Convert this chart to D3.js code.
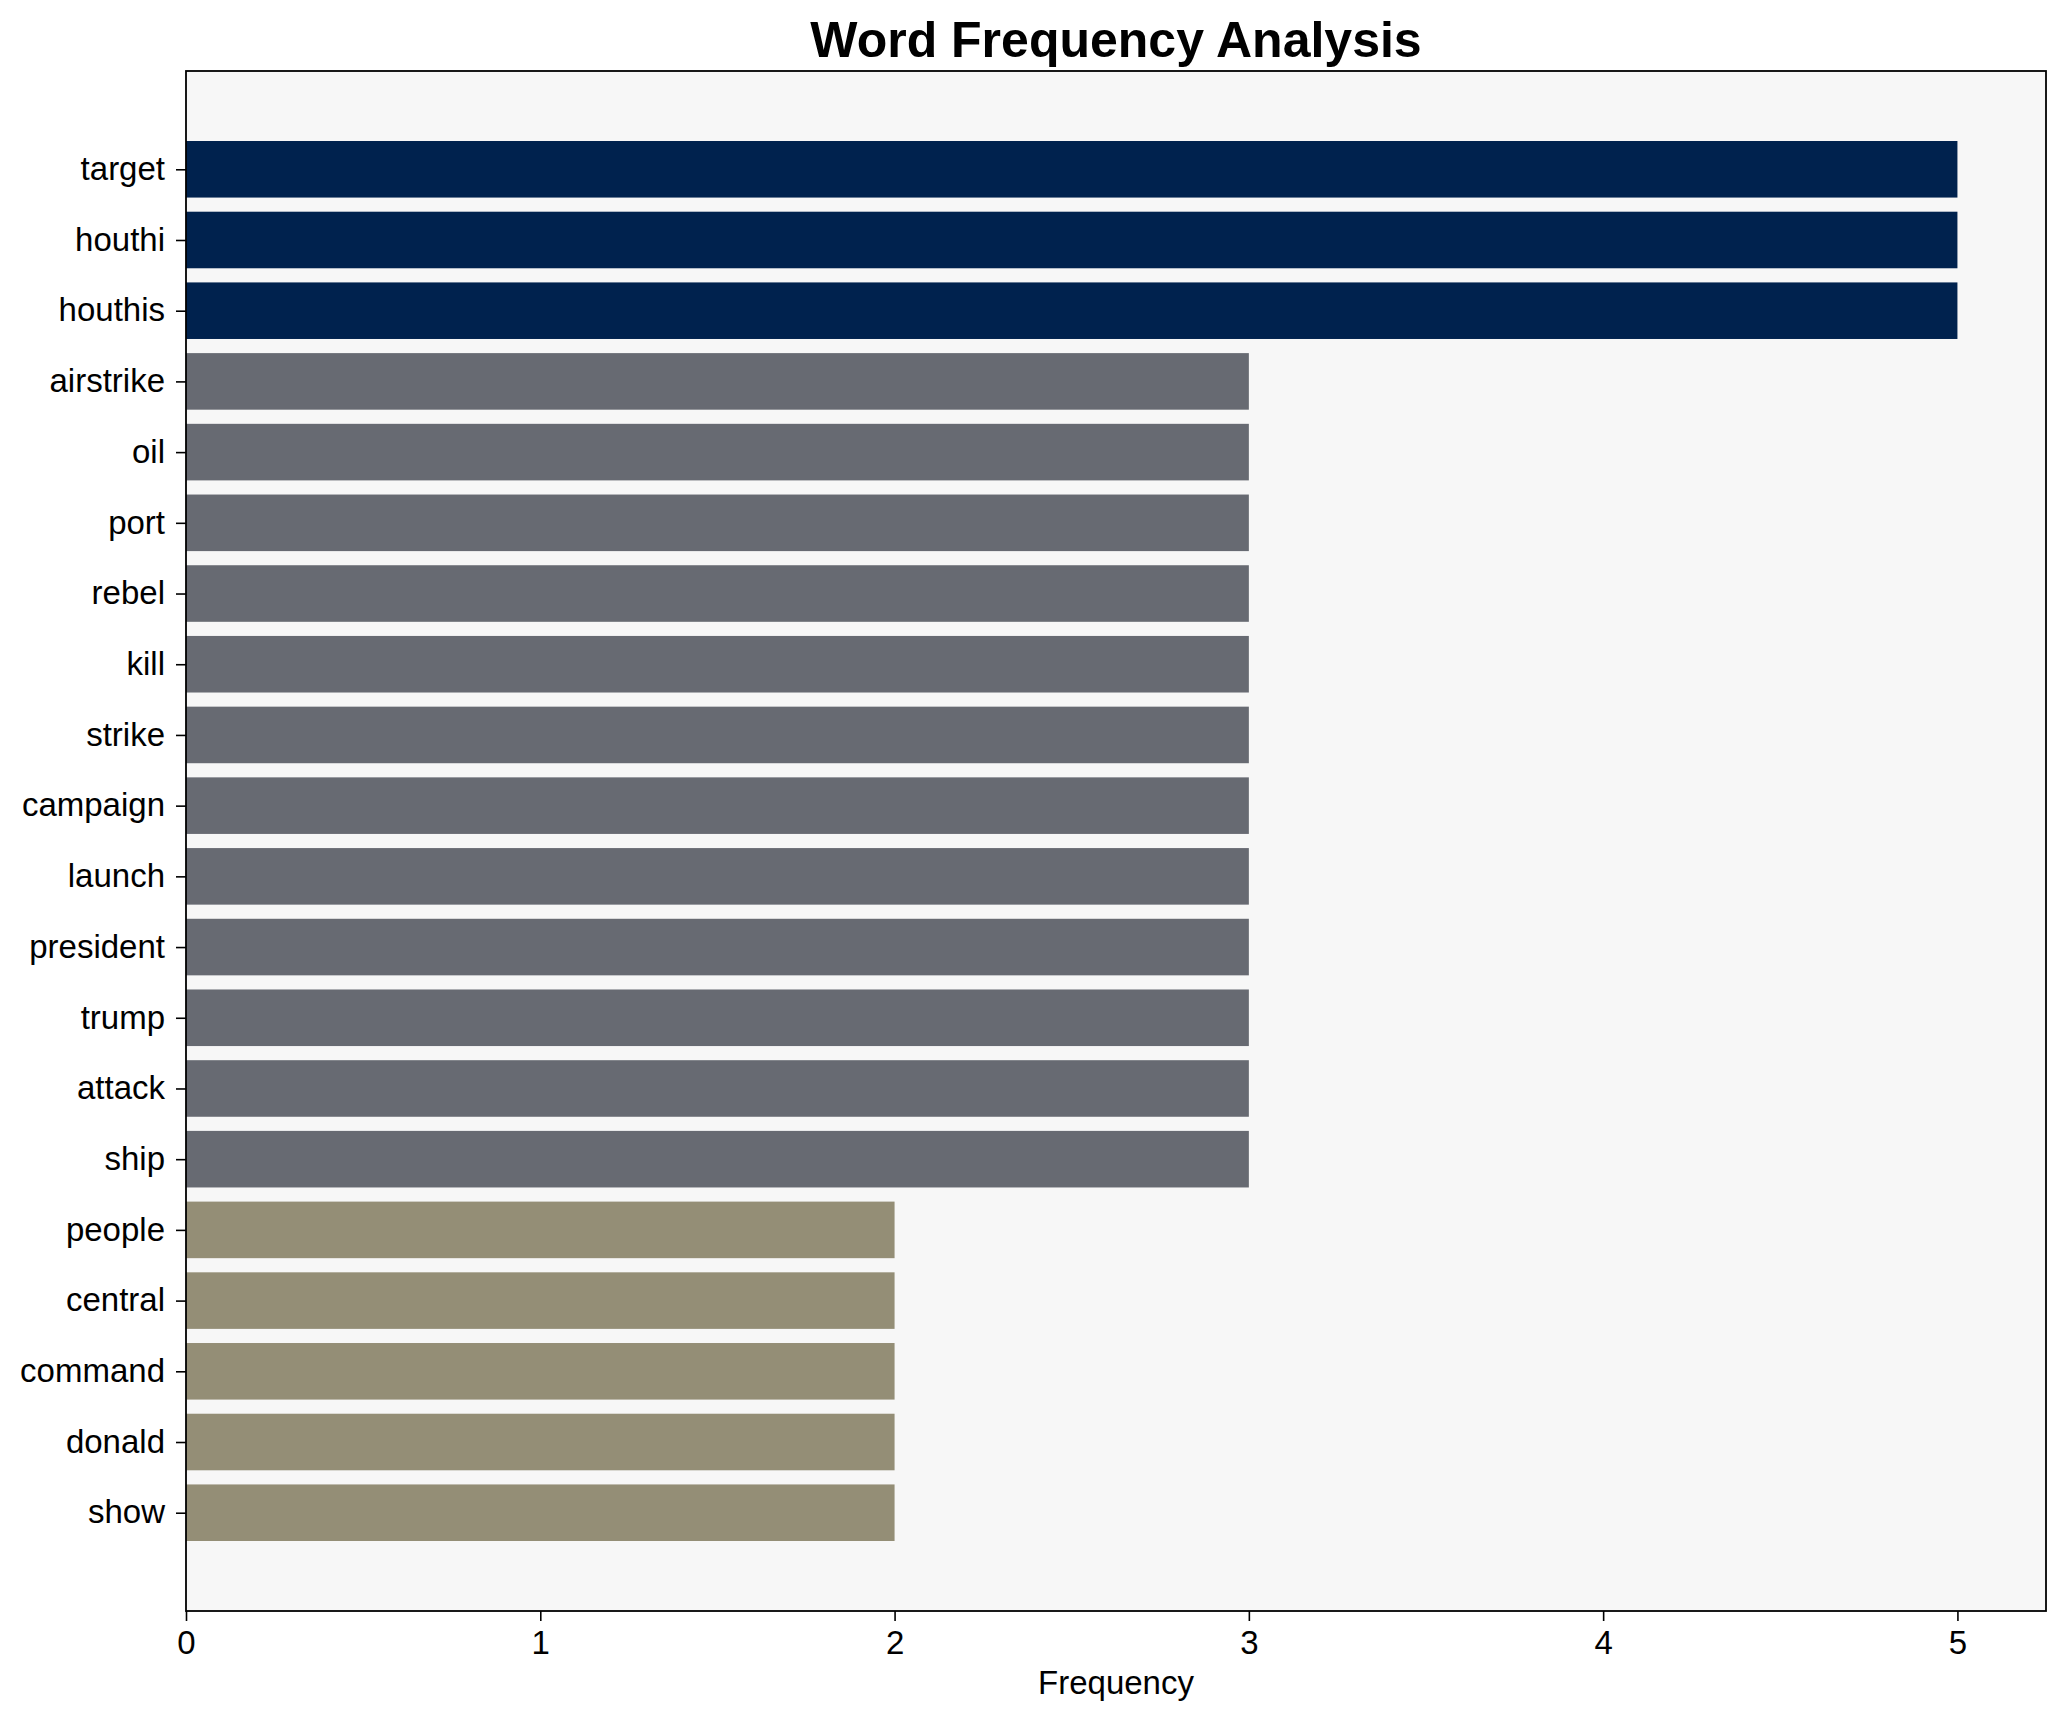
<!DOCTYPE html>
<html><head><meta charset="utf-8">
<script src="https://cdn.jsdelivr.net/npm/d3@7"></script>
<style>body{margin:0;background:#fff}svg{display:block}text{font-family:"Liberation Sans",Arial,sans-serif}</style>
</head><body><svg id="c" width="2065" height="1722"></svg>
<script>
const words = ["target","houthi","houthis","airstrike","oil","port","rebel","kill","strike","campaign","launch","president","trump","attack","ship","people","central","command","donald","show"];
const counts = [5,5,5,3,3,3,3,3,3,3,3,3,3,3,3,2,2,2,2,2];
const xTicks = [0,1,2,3,4,5];
const colorByCount = {5:"#00224e",3:"#676a72",2:"#948e76"};

const svg = d3.select("#c");
const L=186, R=2046, T=71, B=1611;
const n = words.length;
const xMax = d3.max(counts)*1.05;
const x = d3.scaleLinear().domain([0,xMax]).range([L,R]);
const pad = (n-1+0.8)*0.05;
const y = d3.scaleLinear().domain([-0.4-pad, n-1+0.4+pad]).range([T,B]);

svg.append("rect").attr("x",L).attr("y",T).attr("width",R-L).attr("height",B-T).attr("fill","#f7f7f7");

svg.append("g").selectAll("rect").data(words).join("rect")
  .attr("x",x(0)).attr("y",(d,i)=>y(i-0.4)).attr("width",(d,i)=>x(counts[i])-x(0))
  .attr("height",(d,i)=>y(i+0.4)-y(i-0.4)).attr("fill",(d,i)=>colorByCount[counts[i]]);

const xa = svg.append("g").attr("transform",`translate(0,${B})`)
  .call(d3.axisBottom(x).tickValues(xTicks).tickFormat(d3.format("d")).tickSize(10).tickPadding(10).tickSizeOuter(0));
xa.select(".domain").remove();
xa.selectAll("line").attr("stroke","#000").attr("stroke-width",1.6);
xa.selectAll("text").attr("font-size",33).attr("fill","#000").attr("font-family","Liberation Sans, Arial, sans-serif");

const ya = svg.append("g").attr("transform",`translate(${L},0)`)
  .call(d3.axisLeft(y).tickValues(d3.range(n)).tickFormat(i=>words[i]).tickSize(10).tickPadding(11).tickSizeOuter(0));
ya.select(".domain").remove();
ya.selectAll("line").attr("stroke","#000").attr("stroke-width",1.6);
ya.selectAll("text").attr("font-size",33).attr("dy","0.31em").attr("fill","#000").attr("font-family","Liberation Sans, Arial, sans-serif");

svg.append("rect").attr("x",L).attr("y",T).attr("width",R-L).attr("height",B-T)
  .attr("fill","none").attr("stroke","#000").attr("stroke-width",1.8);

svg.append("text").attr("x",(L+R)/2).attr("y",1694).attr("text-anchor","middle")
  .attr("font-size",33).text("Frequency");
svg.append("text").attr("x",(L+R)/2).attr("y",57).attr("text-anchor","middle")
  .attr("font-size",50).attr("font-weight","bold").text("Word Frequency Analysis");
</script></body></html>
